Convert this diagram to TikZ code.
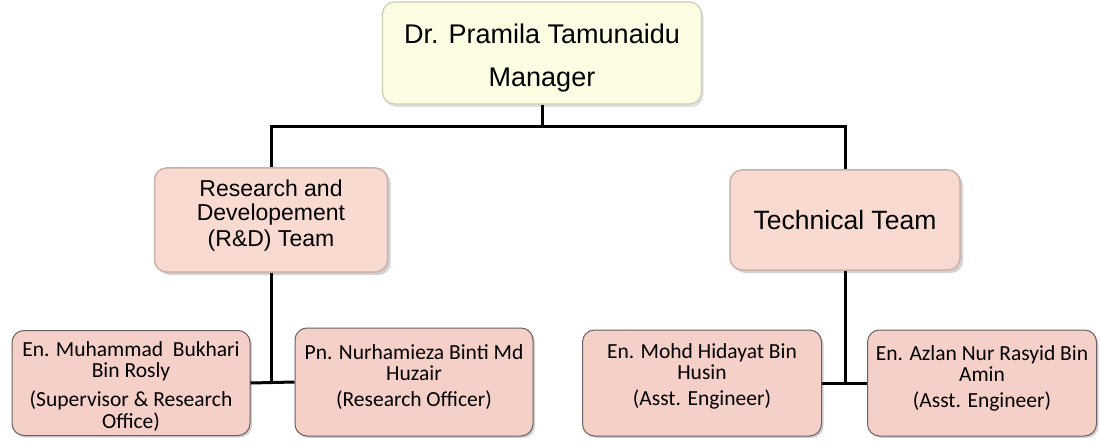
\documentclass[tikz,border=0pt]{standalone}
\usepackage{fontspec}
\setmainfont{Liberation Sans}
\newfontfamily\calib{Carlito}
\usetikzlibrary{shadows}
\definecolor{topfill}{HTML}{FCFDE3}
\definecolor{topdraw}{HTML}{C9CFAE}
\definecolor{midfill}{HTML}{F8DAD0}
\definecolor{middraw}{HTML}{C8B2AA}
\definecolor{botfill}{HTML}{F4D0C8}
\definecolor{botdraw}{HTML}{6A6060}
\newcommand{\boxtxt}[2]{\raisebox{#1}[\height][\depth]{\begin{tabular}{@{}c@{}}#2\end{tabular}}}
\tikzset{
  topbox/.style={draw=topdraw,line width=1.2pt,fill=topfill,rounded corners=12pt,
    font=\fontsize{27}{43}\selectfont,inner sep=0pt,
    drop shadow={opacity=0.25,shadow xshift=2pt,shadow yshift=-3pt}},
  midbox/.style={draw=middraw,line width=1.5pt,fill=midfill,rounded corners=12pt,
    font=\fontsize{23}{25}\selectfont,inner sep=0pt,
    drop shadow={opacity=0.35,shadow xshift=3pt,shadow yshift=-3pt}},
  botbox/.style={draw=botdraw,line width=1pt,fill=botfill,rounded corners=12pt,
    font=\calib\fontsize{21.5}{21}\selectfont,inner sep=0pt,
    drop shadow={opacity=0.35,shadow xshift=2pt,shadow yshift=-2pt}},
  conn/.style={line width=3pt,black}
}
\begin{document}
\begin{tikzpicture}[x=1pt,y=-1pt]
\useasboundingbox[fill=white] (0,0) rectangle (1101,441);
\node[topbox,minimum width=319pt,minimum height=102pt] (top) at (542,53)
  {\boxtxt{-3pt}{Dr. Pramila Tamunaidu\\Manager}};
\node[midbox,minimum width=233pt,minimum height=104pt] (rd) at (271,220)
  {\boxtxt{4pt}{Research and\\Developement\\(R\&D) Team}};
\node[midbox,font=\fontsize{26.5}{28}\selectfont,minimum width=230pt,minimum height=100pt] (tech) at (845,220)
  {Technical Team};
\node[botbox,minimum width=238pt,minimum height=105pt] (b1) at (131,383)
  {\boxtxt{-5pt}{En. Muhammad\ \ Bukhari\\Bin Rosly\\[7pt](Supervisor \& Research\\Office)}};
\node[botbox,minimum width=238pt,minimum height=108pt] (b2) at (414,382)
  {\boxtxt{3pt}{Pn. Nurhamieza Binti Md\\Huzair\\[4pt](Research Officer)}};
\node[botbox,minimum width=239pt,minimum height=106pt] (b3) at (702,383)
  {\boxtxt{5pt}{En. Mohd Hidayat Bin\\Husin\\[4pt](Asst. Engineer)}};
\node[botbox,minimum width=229pt,minimum height=106pt] (b4) at (982,383)
  {\boxtxt{3pt}{En. Azlan Nur Rasyid Bin\\Amin\\[4pt](Asst. Engineer)}};
\coordinate (j) at (542,127);
\draw[conn] (top.south) -- (j);
\draw[conn] (rd.north) |- (j) -| (tech.north);
\draw[conn] (rd.south) -- (rd.south |- b1.east);
\draw[conn] (b1.east) -- (b2.west);
\draw[conn] (tech.south) -- (tech.south |- b3.east);
\draw[conn] (b3.east) -- (b4.west);
\end{tikzpicture}
\end{document}
